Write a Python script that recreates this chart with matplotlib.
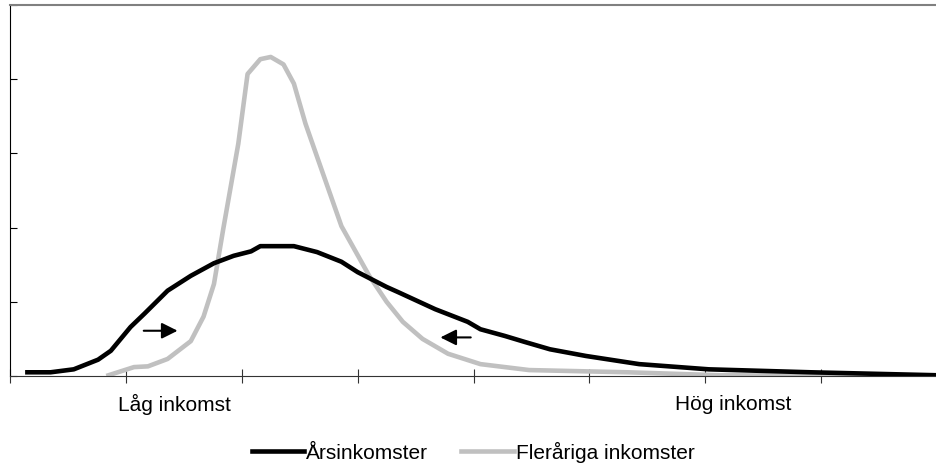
import matplotlib.pyplot as plt

plt.rcParams['font.family'] = ['Liberation Sans', 'DejaVu Sans']

# Årsinkomster (black)
ars_x = [1.5, 3.5, 5.5, 7.6, 8.7, 10.4, 11.6, 13.6, 15.6, 17.6, 19.3, 20.8, 21.6,
         24.5, 26.5, 28.6, 30.0, 32.5, 33.5, 36.7, 39.5, 40.6, 42.7, 44.4, 46.6,
         49.7, 54.3, 60.3, 69.1, 80.0]
ars_y = [0.05, 0.05, 0.09, 0.22, 0.34, 0.66, 0.84, 1.15, 1.35, 1.52, 1.62, 1.68, 1.75,
         1.75, 1.67, 1.54, 1.40, 1.20, 1.13, 0.90, 0.73, 0.63, 0.54, 0.46, 0.36,
         0.27, 0.16, 0.09, 0.05, 0.01]

# Fleråriga inkomster (grey)
fler_x = [8.5, 10.7, 11.9, 13.6, 15.6, 16.7, 17.6, 18.4, 19.7, 20.5, 21.6, 22.5,
          23.6, 24.5, 25.5, 26.8, 28.6, 31.0, 32.5, 33.9, 35.6, 37.8, 40.6, 44.8,
          53.3, 61.3, 80.0]
fler_y = [0.01, 0.12, 0.13, 0.23, 0.47, 0.80, 1.24, 1.98, 3.13, 4.07, 4.27, 4.30,
          4.20, 3.94, 3.40, 2.82, 2.02, 1.35, 1.00, 0.73, 0.50, 0.30, 0.16, 0.08,
          0.05, 0.01, 0.0]

fig = plt.figure(figsize=(9.37, 4.64), dpi=100)
ax = fig.add_axes([0.0107, 0.1875, 0.9893, 0.7995])

ax.plot(ars_x, ars_y, color='black', lw=3.3, label='Årsinkomster', zorder=3)
ax.plot(fler_x, fler_y, color='#c0c0c0', lw=3.3, label='Fleråriga inkomster', zorder=2)

# arrows showing the shift towards the middle
ax.annotate('', xy=(14.7, 0.61), xytext=(11.3, 0.61),
            arrowprops=dict(arrowstyle='-|>', color='black', lw=1.5, mutation_scale=24))
ax.annotate('', xy=(36.9, 0.52), xytext=(40.0, 0.52),
            arrowprops=dict(arrowstyle='-|>', color='black', lw=1.5, mutation_scale=24))

ax.set_xlim(0, 80)
ax.set_ylim(0, 5)
ax.set_xticks(range(0, 81, 10))
ax.set_yticks(range(0, 6))
ax.set_xticklabels([])
ax.set_yticklabels([])
ax.tick_params(axis='x', direction='inout', length=10, width=0.8, color='#333333')
ax.tick_params(axis='y', direction='in', length=5, width=0.8)

ax.spines['right'].set_visible(False)
ax.spines['top'].set_color('#808080')
ax.spines['top'].set_linewidth(1.5)
ax.spines['left'].set_color('black')
ax.spines['bottom'].set_color('#333333')

ax.text(14.2, -0.073, 'Låg inkomst', transform=ax.get_xaxis_transform(),
        ha='center', va='center', fontsize=15)
ax.text(62.4, -0.073, 'Hög inkomst', transform=ax.get_xaxis_transform(),
        ha='center', va='center', fontsize=15)

fig.legend(loc='center', bbox_to_anchor=(0.505, 0.024), ncol=2, frameon=False,
           fontsize=15, handlelength=2.5, handletextpad=0.1, columnspacing=1.6,
           borderpad=0, borderaxespad=0)

fig.savefig('out.png', dpi=100)
